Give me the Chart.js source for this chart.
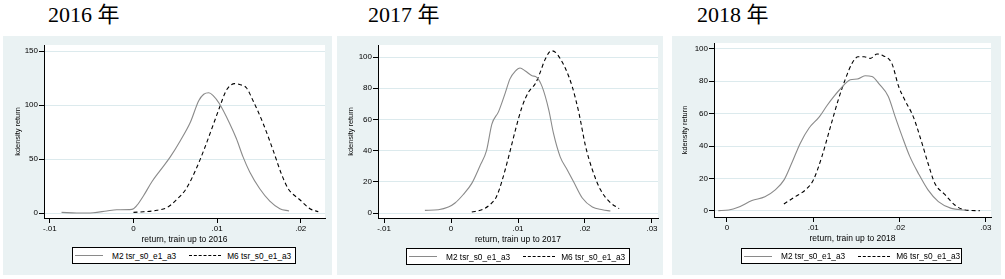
<!DOCTYPE html>
<html>
<head>
<meta charset="utf-8">
<script src="https://cdn.jsdelivr.net/npm/chart.js@4"></script>
<style>
  body { margin: 0; width: 1005px; height: 279px; background: #fff; position: relative; overflow: hidden; }
  .panel { position: absolute; top: 36px; height: 239px; background: #EAF2F3; }
  .panel canvas { position: absolute; left: 0; top: 0; }
  .title { position: absolute; top: 4px; font-family: "Liberation Serif", "Noto Sans CJK SC", serif; font-size: 22px; line-height: 22px; color: #000; white-space: nowrap; }
  .legend { position: absolute; box-sizing: border-box; border: 1px solid #000; background: #fff; display: flex; align-items: center; font-family: "Liberation Sans", Arial, sans-serif; font-size: 8.3px; color: #000; white-space: nowrap; }
  .legend .solid { width: 28px; border-top: 1.2px solid #8a8a8a; margin-left: 2px; margin-right: 9px; }
  .legend .dash { width: 32px; border-top: 1.2px dashed #000; margin-left: 13px; margin-right: 6px; }
</style>
</head>
<body>

<div class="title" style="left:48px">2016 年</div>
<div class="title" style="left:368px">2017 年</div>
<div class="title" style="left:697px">2018 年</div>

<div class="panel" style="left:3px;width:329px"><canvas id="c2016" width="329" height="239"></canvas></div>
<div class="panel" style="left:337px;width:326px"><canvas id="c2017" width="326" height="239"></canvas></div>
<div class="panel" style="left:672px;width:329px"><canvas id="c2018" width="329" height="239"></canvas></div>

<div class="legend" style="left:72px;top:247px;width:224px;height:17px"><span class="solid"></span>M2 tsr_s0_e1_a3<span class="dash"></span>M6 tsr_s0_e1_a3</div>
<div class="legend" style="left:406px;top:248px;width:224px;height:17px"><span class="solid"></span>M2 tsr_s0_e1_a3<span class="dash"></span>M6 tsr_s0_e1_a3</div>
<div class="legend" style="left:741px;top:248px;width:221px;height:16px"><span class="solid"></span>M2 tsr_s0_e1_a3<span class="dash"></span>M6 tsr_s0_e1_a3</div>

<script>
// series names
const seriesNames = ["M2 tsr_s0_e1_a3", "M6 tsr_s0_e1_a3"];

// 2016
const x2016M2 = [-0.0086, -0.0068, -0.0048, -0.0032, -0.002, -0.0002, 0.0004, 0.0012, 0.0022, 0.0032, 0.0044, 0.0056, 0.0068, 0.0078, 0.0084, 0.009, 0.0095, 0.0103, 0.0115, 0.0123, 0.0131, 0.0139, 0.0151, 0.0163, 0.0175, 0.0186];
const y2016M2 = [0.6, 0, 0.3, 1.9, 3, 3.4, 7, 16, 29, 39.5, 52, 67, 84, 104, 110, 111.4, 109, 101, 83, 69, 52, 38, 22.5, 11, 4, 1.9];
const x2016M6 = [0, 0.0012, 0.0028, 0.004, 0.0051, 0.0063, 0.0075, 0.0085, 0.0095, 0.0103, 0.0111, 0.0121, 0.0127, 0.0135, 0.0143, 0.0155, 0.0167, 0.0177, 0.0185, 0.0199, 0.0211, 0.0221];
const y2016M6 = [0.6, 1.2, 2.5, 5, 12, 22.5, 41, 60, 81, 98, 113.6, 119.8, 119, 116, 104, 83, 58, 36, 22.5, 12.3, 4, 1.2];

// 2017
const x2017M2 = [-0.0039, -0.0019, -0.0004, 0.0006, 0.0018, 0.0031, 0.0043, 0.0053, 0.0061, 0.0071, 0.0081, 0.0088, 0.0096, 0.0103, 0.0111, 0.0121, 0.0128, 0.0136, 0.0146, 0.0153, 0.0163, 0.0173, 0.0183, 0.0196, 0.0211, 0.0226, 0.0238];
const y2017M2 = [1.7, 2.1, 3.8, 6.4, 11.7, 19, 30, 40, 57, 65, 77, 86, 91, 93, 91, 88, 87, 81, 66, 51, 36, 28, 20, 9.6, 3.8, 2.1, 1.3];
const x2017M6 = [0.0031, 0.0046, 0.0058, 0.0068, 0.0075, 0.0086, 0.0096, 0.0106, 0.0116, 0.0126, 0.0133, 0.014, 0.015, 0.0156, 0.0163, 0.0171, 0.0181, 0.0191, 0.0201, 0.0211, 0.0223, 0.0236, 0.0251];
const y2017M6 = [0.6, 2.1, 5.3, 10.6, 19, 36, 53, 68, 77.7, 83, 90, 98, 104, 103, 99, 92.5, 81, 64, 42.5, 27.7, 15, 7.4, 2.8];

// 2018
const x2018M2 = [-0.001, 0.0002, 0.0013, 0.0029, 0.0044, 0.0056, 0.0066, 0.0075, 0.0085, 0.0095, 0.0107, 0.0116, 0.0124, 0.0134, 0.0143, 0.0151, 0.016, 0.0168, 0.0177, 0.0187, 0.0195, 0.0203, 0.0212, 0.0222, 0.0233, 0.0245, 0.026, 0.0276];
const y2018M2 = [0.2, 0.6, 2.3, 6.4, 8.8, 13, 19, 29.4, 41.8, 51, 58, 65, 70.6, 76.7, 80.9, 81.3, 83.3, 82.9, 77.8, 70.6, 58, 46, 33.5, 23, 13, 5.8, 1.6, 0.6];
const x2018M6 = [0.0066, 0.0079, 0.0091, 0.01, 0.011, 0.012, 0.0129, 0.0137, 0.0145, 0.0152, 0.0159, 0.0166, 0.0174, 0.0181, 0.0191, 0.0199, 0.0206, 0.0216, 0.0226, 0.0233, 0.0241, 0.0253, 0.0264, 0.0276, 0.0293];
const y2018M6 = [4.3, 8.8, 13, 19, 33.5, 52, 68.5, 80.9, 91, 95, 95, 94, 96.7, 95.7, 91, 76.7, 68.5, 58, 41.8, 29.4, 17, 9.9, 3.7, 0.6, 0.2];

// tick labels
const xTicks2016 = [-0.01, 0, 0.01, 0.02];
const xTicks2017 = [-0.01, 0, 0.01, 0.02, 0.03];
const xTicks2018 = [0, 0.01, 0.02, 0.03];
const yTicks2016 = [0, 50, 100, 150];
const yTicks2017 = [0, 20, 40, 60, 80, 100];
const yTicks2018 = [0, 20, 40, 60, 80, 100];

const FONT = "'Liberation Sans', Arial, sans-serif";

// stata style: .01 instead of 0.01
function stataNum(v) {
    if (v === 0) return "0";
    const s = String(Math.abs(v)).replace(/^0/, "");
    return (v < 0 ? "-" : "") + s;
}

function pts(xs, ys) {
    return xs.map((x, i) => ({ x: x, y: ys[i] }));
}

const whitePlot = {
    id: "whitePlot",
    beforeDraw(chart) {
        const a = chart.chartArea;
        const ctx = chart.ctx;
        ctx.save();
        ctx.fillStyle = "#fff";
        ctx.fillRect(a.left, a.top, a.right - a.left, a.bottom - a.top);
        ctx.restore();
    }
};

function makePanel(id, year, xM2, yM2, xM6, yM6, xTicks, yTicks, lim, lay) {
    new Chart(document.getElementById(id), {
        type: "line",
        data: {
            datasets: [
                {
                    label: seriesNames[0],
                    data: pts(xM2, yM2),
                    borderColor: "#8a8a8a",
                    borderWidth: 1.1,
                    pointRadius: 0,
                    cubicInterpolationMode: "monotone",
                    fill: false
                },
                {
                    label: seriesNames[1],
                    data: pts(xM6, yM6),
                    borderColor: "#000",
                    borderWidth: 1.1,
                    borderDash: [4, 3],
                    pointRadius: 0,
                    cubicInterpolationMode: "monotone",
                    fill: false
                }
            ]
        },
        options: {
            responsive: false,
            animation: false,
            layout: { padding: { left: 0, top: lay.top, right: lay.right, bottom: lay.bottom } },
            plugins: { legend: { display: false }, tooltip: { enabled: false } },
            scales: {
                x: {
                    type: "linear",
                    min: lim.xmin,
                    max: lim.xmax,
                    afterBuildTicks: s => { s.ticks = xTicks.map(v => ({ value: v })); },
                    afterFit: s => { s.height = 27; },
                    border: { display: true, color: "#000", width: 1 },
                    grid: { drawOnChartArea: false, tickColor: "#000", tickLength: 5 },
                    ticks: {
                        color: "#000", padding: 1, maxRotation: 0,
                        font: { family: FONT, size: 8 },
                        callback: v => stataNum(v)
                    },
                    title: {
                        display: true, text: "return, train up to " + year, color: "#000",
                        font: { family: FONT, size: 8.5 }, padding: { top: 0, bottom: 0 }
                    }
                },
                y: {
                    min: lim.ymin,
                    max: lim.ymax,
                    afterBuildTicks: s => { s.ticks = yTicks.map(v => ({ value: v })); },
                    afterFit: s => { s.width = lay.yw; },
                    border: { display: true, color: "#000", width: 1 },
                    grid: { color: "#DCEAED", lineWidth: 1, tickColor: "#000", tickLength: 5 },
                    ticks: {
                        color: "#000", padding: 1,
                        font: { family: FONT, size: 8 }
                    },
                    title: {
                        display: true, text: "kdensity return", color: "#000",
                        font: { family: FONT, size: 7.4 }, padding: { top: lay.tp, bottom: 0 }
                    }
                }
            }
        },
        plugins: [whitePlot]
    });
}

makePanel("c2016", 2016, x2016M2, y2016M2, x2016M6, y2016M6, xTicks2016, yTicks2016,
    { xmin: -0.0107, xmax: 0.0229, ymin: -4.6, ymax: 155.6 },
    { top: 9, right: 7, bottom: 30, yw: 41, tp: 11 });
makePanel("c2017", 2017, x2017M2, y2017M2, x2017M6, y2017M6, xTicks2017, yTicks2017,
    { xmin: -0.0109, xmax: 0.0309, ymin: -3.2, ymax: 107.7 },
    { top: 9, right: 5, bottom: 30, yw: 41, tp: 10 });
makePanel("c2018", 2018, x2018M2, y2018M2, x2018M6, y2018M6, xTicks2018, yTicks2018,
    { xmin: -0.0015, xmax: 0.0306, ymin: -3.7, ymax: 103.5 },
    { top: 7, right: 10, bottom: 31, yw: 42, tp: 9 });
</script>
</body>
</html>
